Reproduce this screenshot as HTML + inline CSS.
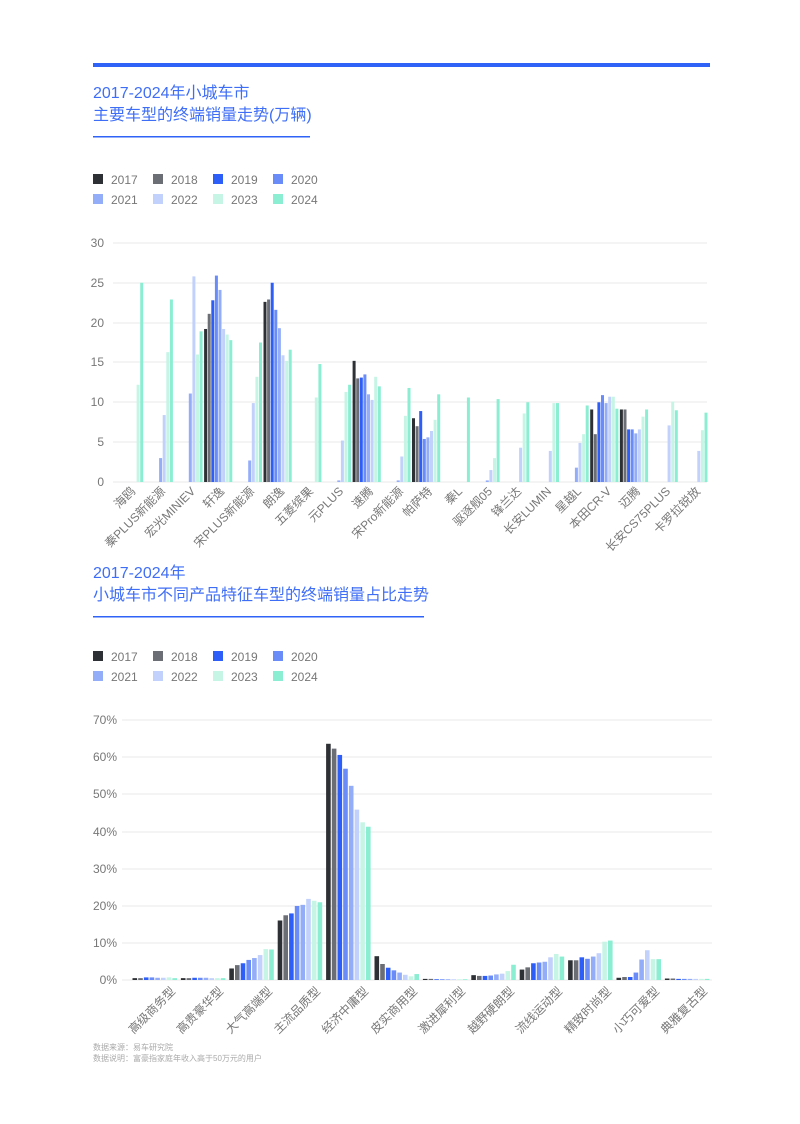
<!DOCTYPE html>
<html><head><meta charset="utf-8"><style>
html,body{margin:0;padding:0;background:#fff;}
svg{display:block;font-family:"Liberation Sans","Noto Sans CJK SC",sans-serif;}
</style></head><body>
<svg id="s" width="800" height="1124" viewBox="0 0 800 1124" xmlns="http://www.w3.org/2000/svg">
<rect x="93" y="63" width="617" height="4" fill="#2f62f6"/>
<g fill="#3f6ef6" font-size="16">
<text x="93" y="98">2017-2024年小城车市</text>
<text x="93" y="120">主要车型的终端销量走势(万辆)</text>
<text x="93" y="578">2017-2024年</text>
<text x="93" y="600">小城车市不同产品特征车型的终端销量占比走势</text>
</g>
<rect x="93" y="136" width="217" height="1.5" fill="#2f62f6"/>
<rect x="93" y="616" width="331" height="1.5" fill="#2f62f6"/>
<g font-size="12" fill="#777">
<rect x="93" y="174" width="10" height="10" fill="#2d3034"/><text x="111" y="184">2017</text>
<rect x="153" y="174" width="10" height="10" fill="#6b6e75"/><text x="171" y="184">2018</text>
<rect x="213" y="174" width="10" height="10" fill="#2d5ef8"/><text x="231" y="184">2019</text>
<rect x="273" y="174" width="10" height="10" fill="#6a8cf8"/><text x="291" y="184">2020</text>
<rect x="93" y="194" width="10" height="10" fill="#93adf8"/><text x="111" y="204">2021</text>
<rect x="153" y="194" width="10" height="10" fill="#c2d1fb"/><text x="171" y="204">2022</text>
<rect x="213" y="194" width="10" height="10" fill="#c6f5e6"/><text x="231" y="204">2023</text>
<rect x="273" y="194" width="10" height="10" fill="#8beed2"/><text x="291" y="204">2024</text>
<rect x="93" y="651" width="10" height="10" fill="#2d3034"/><text x="111" y="661">2017</text>
<rect x="153" y="651" width="10" height="10" fill="#6b6e75"/><text x="171" y="661">2018</text>
<rect x="213" y="651" width="10" height="10" fill="#2d5ef8"/><text x="231" y="661">2019</text>
<rect x="273" y="651" width="10" height="10" fill="#6a8cf8"/><text x="291" y="661">2020</text>
<rect x="93" y="671" width="10" height="10" fill="#93adf8"/><text x="111" y="681">2021</text>
<rect x="153" y="671" width="10" height="10" fill="#c2d1fb"/><text x="171" y="681">2022</text>
<rect x="213" y="671" width="10" height="10" fill="#c6f5e6"/><text x="231" y="681">2023</text>
<rect x="273" y="671" width="10" height="10" fill="#8beed2"/><text x="291" y="681">2024</text>
</g>
<g stroke="#e8e8e8" stroke-width="1">
<line x1="113" x2="707" y1="243" y2="243"/><line x1="113" x2="707" y1="283" y2="283"/><line x1="113" x2="707" y1="323" y2="323"/><line x1="113" x2="707" y1="362" y2="362"/><line x1="113" x2="707" y1="402" y2="402"/><line x1="113" x2="707" y1="442" y2="442"/><line x1="113" x2="707" y1="482" y2="482"/>
<line x1="122" x2="712" y1="720" y2="720"/><line x1="122" x2="712" y1="757" y2="757"/><line x1="122" x2="712" y1="794" y2="794"/><line x1="122" x2="712" y1="832" y2="832"/><line x1="122" x2="712" y1="869" y2="869"/><line x1="122" x2="712" y1="906" y2="906"/><line x1="122" x2="712" y1="943" y2="943"/><line x1="122" x2="712" y1="980" y2="980"/>
</g>
<g font-size="12" fill="#777" text-anchor="end">
<text x="104" y="247">30</text><text x="104" y="287">25</text><text x="104" y="327">20</text><text x="104" y="366">15</text><text x="104" y="406">10</text><text x="104" y="446">5</text><text x="104" y="486">0</text>
<text x="117" y="724">70%</text><text x="117" y="761">60%</text><text x="117" y="798">50%</text><text x="117" y="836">40%</text><text x="117" y="873">30%</text><text x="117" y="910">20%</text><text x="117" y="947">10%</text><text x="117" y="984">0%</text>
</g>
<g id="b1"></g><g id="b2"></g>
<g font-size="12" fill="#777" text-anchor="end">
<text transform="translate(136,492) rotate(-45)">海鸥</text>
<text transform="translate(166,492) rotate(-45)">秦PLUS新能源</text>
<text transform="translate(196,492) rotate(-45)">宏光MINIEV</text>
<text transform="translate(225,492) rotate(-45)">轩逸</text>
<text transform="translate(255,492) rotate(-45)">宋PLUS新能源</text>
<text transform="translate(285,492) rotate(-45)">朗逸</text>
<text transform="translate(314,492) rotate(-45)">五菱缤果</text>
<text transform="translate(344,492) rotate(-45)">元PLUS</text>
<text transform="translate(374,492) rotate(-45)">速腾</text>
<text transform="translate(404,492) rotate(-45)">宋Pro新能源</text>
<text transform="translate(433,492) rotate(-45)">帕萨特</text>
<text transform="translate(463,492) rotate(-45)">秦L</text>
<text transform="translate(493,492) rotate(-45)">驱逐舰05</text>
<text transform="translate(522,492) rotate(-45)">锋兰达</text>
<text transform="translate(552,492) rotate(-45)">长安LUMIN</text>
<text transform="translate(582,492) rotate(-45)">星越L</text>
<text transform="translate(612,492) rotate(-45)">本田CR-V</text>
<text transform="translate(641,492) rotate(-45)">迈腾</text>
<text transform="translate(671,492) rotate(-45)">长安CS75PLUS</text>
<text transform="translate(701,492) rotate(-45)">卡罗拉锐放</text>
</g>
<g font-size="12" fill="#777" text-anchor="end">
<text transform="translate(176,992) rotate(-45)">高级商务型</text>
<text transform="translate(224,992) rotate(-45)">高贵豪华型</text>
<text transform="translate(273,992) rotate(-45)">大气高端型</text>
<text transform="translate(321,992) rotate(-45)">主流品质型</text>
<text transform="translate(369,992) rotate(-45)">经济中庸型</text>
<text transform="translate(418,992) rotate(-45)">皮实商用型</text>
<text transform="translate(466,992) rotate(-45)">激进犀利型</text>
<text transform="translate(515,992) rotate(-45)">越野硬朗型</text>
<text transform="translate(563,992) rotate(-45)">流线运动型</text>
<text transform="translate(612,992) rotate(-45)">精致时尚型</text>
<text transform="translate(660,992) rotate(-45)">小巧可爱型</text>
<text transform="translate(708,992) rotate(-45)">典雅复古型</text>
</g>
<g font-size="8" fill="#aaa">
<text x="93" y="1050">数据来源：易车研究院</text>
<text x="93" y="1061">数据说明：富豪指家庭年收入高于50万元的用户</text>
</g>
</svg>
<script>
var C=["#2d3034","#6b6e75","#2d5ef8","#6a8cf8","#93adf8","#c2d1fb","#c6f5e6","#8beed2"];
var d1=[[0,0,0,0,0,0,12.2,25],[0,0,0,0,3,8.4,16.3,22.9],[0,0,0,0,11.1,25.8,16,18.9],[19.2,21.1,22.8,25.9,24.1,19.2,18.5,17.8],[0,0,0,0,2.7,9.9,13.2,17.5],[22.6,22.9,25,21.6,19.3,15.9,15.2,16.6],[0,0,0,0,0,0,10.6,14.8],[0,0,0,0,0.2,5.2,11.3,12.2],[15.2,13,13.1,13.5,11,10.3,13.2,12],[0,0,0,0,0.2,3.2,8.3,11.8],[8,7,8.9,5.4,5.6,6.4,7.8,11],[0,0,0,0,0,0,0,10.6],[0,0,0,0,0.2,1.5,3,10.4],[0,0,0,0,0,4.3,8.6,10],[0,0,0,0,0,3.9,9.9,9.9],[0,0,0,0,1.8,4.9,6,9.6],[9.1,6,10,10.9,9.9,10.7,10.7,9.2],[9.1,9.1,6.6,6.6,6.1,6.6,8.2,9.1],[0,0,0,0,0,7.1,10.1,9],[0,0,0,0,0,3.9,6.5,8.7]];
var d2=[[0.5,0.5,0.7,0.7,0.6,0.6,0.7,0.5],[0.5,0.5,0.6,0.6,0.6,0.5,0.5,0.5],[3.1,4,4.5,5.4,5.9,6.7,8.3,8.2],[16,17.4,17.9,19.9,20.2,21.8,21.3,20.9],[63.5,62.2,60.5,56.8,52.2,45.8,42.4,41.2],[6.4,4.3,3.3,2.6,2,1.4,1,1.6],[0.3,0.3,0.2,0.2,0.2,0.2,0.2,0.2],[1.3,1.1,1.1,1.2,1.5,1.7,2.4,4.1],[2.8,3.4,4.5,4.7,4.9,6.1,7,6.3],[5.3,5.3,6.1,5.7,6.3,7.2,10.3,10.6],[0.6,0.8,0.8,2,5.5,8,5.6,5.6],[0.4,0.4,0.3,0.3,0.3,0.3,0.3,0.3]];
var ns="http://www.w3.org/2000/svg";
function r(g,x,y,w,h,f){var e=document.createElementNS(ns,"rect");e.setAttribute("x",x);e.setAttribute("y",y);e.setAttribute("width",w);e.setAttribute("height",h);e.setAttribute("fill",f);g.appendChild(e);}
var g1=document.getElementById("b1"),g2=document.getElementById("b2");
d1.forEach(function(a,i){a.forEach(function(v,j){if(v>0){var h=v*7.97;r(g1,115+29.7*i+3.6*j,482-h,3,h,C[j]);}});});
d2.forEach(function(a,i){a.forEach(function(v,j){if(v>0){var h=v*3.72;r(g2,132.5+48.4*i+5.7*j,980-h,4.6,h,C[j]);}});});
</script>
</body></html>
